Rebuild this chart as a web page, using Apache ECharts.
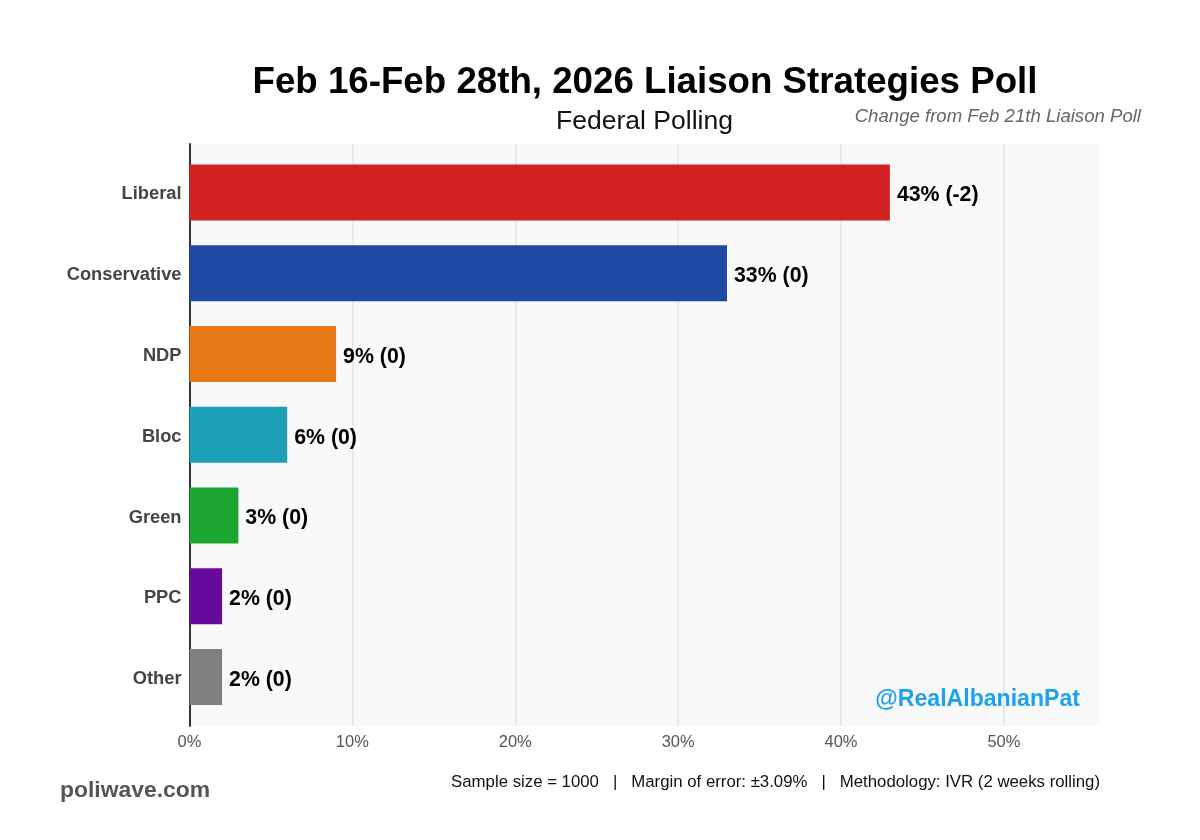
<!DOCTYPE html>
<html>
<head>
<meta charset="utf-8">
<script src="https://cdn.jsdelivr.net/npm/echarts@6/dist/echarts.min.js"></script>
<style>
html, body { margin: 0; padding: 0; background: #fff; }
#main { width: 1200px; height: 840px; }
</style>
</head>
<body>
<div id="main"></div>
<script>
var parties = ['Liberal', 'Conservative', 'NDP', 'Bloc', 'Green', 'PPC', 'Other'];
var shares = [43, 33, 9, 6, 3, 2, 2];
var changes = ['-2', '0', '0', '0', '0', '0', '0'];
var partyColors = ['#d32020', '#1f4aa3', '#e87814', '#1ea0b8', '#1ca531', '#660a9e', '#808080'];
var axisTicks = [0, 10, 20, 30, 40, 50];

var font = '"Liberation Sans", Arial, sans-serif';
var myChart = echarts.init(document.getElementById('main'));

// two grids: the outer one holds the panel and x axis, the inner one is
// shorter because the bars sit inset from the top and bottom of the panel
var option = {
    backgroundColor: '#fff',
    animation: false,
    textStyle: { fontFamily: font },
    grid: [
        { left: 189.5, width: 910.5, top: 144, height: 582, backgroundColor: '#f9f9f9', show: true, borderWidth: 0 },
        { left: 189.5, width: 910.5, top: 152, height: 565.5 }
    ],
    xAxis: [{
        gridIndex: 0,
        type: 'value',
        min: 0,
        max: 55.9,
        interval: 10,
        axisLine: { show: false },
        axisTick: { show: false },
        splitLine: { showMinLine: false, showMaxLine: false, lineStyle: { color: '#e3e3e3', width: 1.5 } },
        axisLabel: {
            color: '#555',
            fontSize: 16.5,
            margin: 8,
            showMaxLabel: false,
            formatter: function (v) { return axisTicks.indexOf(v) >= 0 ? v + '%' : ''; }
        }
    }, {
        gridIndex: 1,
        type: 'value',
        min: 0,
        max: 55.9,
        show: false
    }],
    yAxis: [{
        gridIndex: 0,
        type: 'value',
        min: 0,
        max: 1,
        axisLine: { show: true, lineStyle: { color: '#333', width: 2 } },
        axisTick: { show: false },
        axisLabel: { show: false },
        splitLine: { show: false }
    }, {
        gridIndex: 1,
        type: 'category',
        inverse: true,
        data: parties,
        axisLine: { show: false },
        axisTick: { show: false },
        axisLabel: {
            margin: 8,
            formatter: function (v) { return '{n|' + v + '}'; },
            rich: { n: { color: '#444', fontSize: 18.3, fontWeight: 'bold', padding: [4, 0, 0, 0] } }
        }
    }],
    series: [{
        type: 'bar',
        xAxisIndex: 1,
        yAxisIndex: 1,
        barWidth: 56,
        z: 3,
        data: shares.map(function (v, i) {
            return { value: v, itemStyle: { color: partyColors[i] } };
        }),
        label: {
            show: true,
            position: 'right',
            distance: 7,
            offset: [0, 3],
            color: '#000',
            fontSize: 21.3,
            fontWeight: 'bold',
            formatter: function (p) { return p.value + '% (' + changes[p.dataIndex] + ')'; }
        }
    }],
    graphic: [
        { type: 'text', x: 645, y: 64, style: { text: 'Feb 16-Feb 28th, 2026 Liaison Strategies Poll', align: 'center', fill: '#000', font: 'bold 36.7px ' + font } },
        { type: 'text', x: 644.5, y: 108, style: { text: 'Federal Polling', align: 'center', fill: '#111', font: '26.5px ' + font } },
        { type: 'text', x: 1141, y: 107, style: { text: 'Change from Feb 21th Liaison Poll', align: 'right', fill: '#666', font: 'italic 18.6px ' + font } },
        { type: 'text', x: 1080, y: 688, z: 10, style: { text: '@RealAlbanianPat', align: 'right', fill: '#1da1f2', font: 'bold 23.1px ' + font } },
        { type: 'text', x: 60, y: 779, style: { text: 'poliwave.com', fill: '#555', font: 'bold 22.9px ' + font } },
        { type: 'text', x: 1100, y: 774, style: { text: 'Sample size = 1000   |   Margin of error: ±3.09%   |   Methodology: IVR (2 weeks rolling)', align: 'right', fill: '#111', font: '16.8px ' + font } }
    ]
};
myChart.setOption(option);
</script>
</body>
</html>
